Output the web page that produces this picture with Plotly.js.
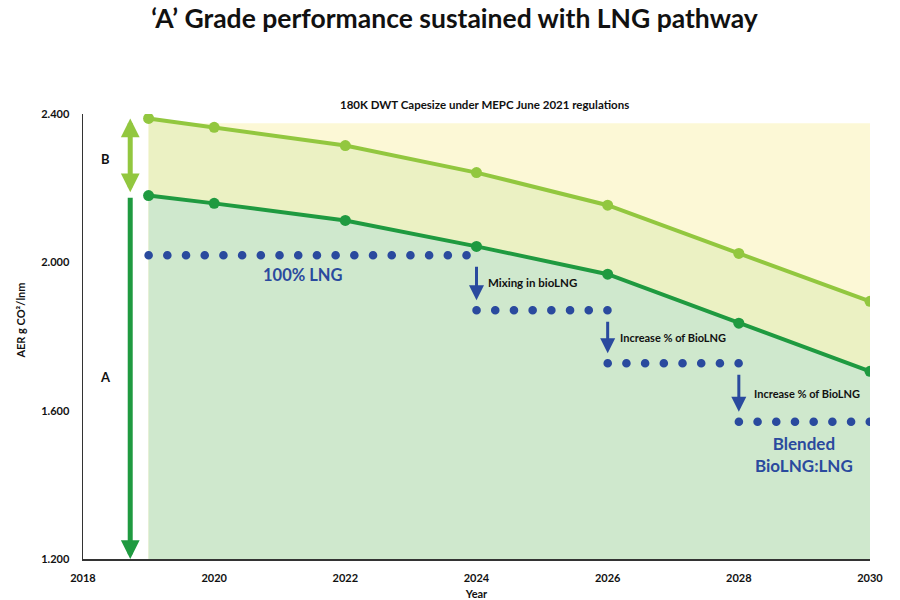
<!DOCTYPE html>
<html>
<head>
<meta charset="utf-8">
<script src="https://cdn.plot.ly/plotly-3.0.1.min.js"></script>
<style>
  html, body { margin: 0; padding: 0; background: #fff; }
  #chart { width: 900px; height: 600px; }
</style>
</head>
<body>
<div id="chart"></div>
<script>
// AER trajectory for a 180K DWT Capesize (grade boundaries by year)
const years = [2019, 2020, 2022, 2024, 2026, 2028, 2030];
const gradeBLimit = [2.388, 2.364, 2.315, 2.242, 2.154, 2.024, 1.895];
const gradeALimit = [2.180, 2.159, 2.113, 2.043, 1.968, 1.836, 1.706];

// Upper band (grade C zone) drawn behind the limits
const bandYears = [2019, 2030];
const bandTop = [2.375, 2.375];

// Fuel pathway steps: LNG then progressively blended bioLNG
const stepNames = ['100% LNG', 'Mixing in bioLNG', 'Increase % of BioLNG', 'Blended BioLNG:LNG'];
const stepStart = [2019, 2024, 2026, 2028];
const stepEnd = [2024, 2026, 2028, 2030];
const stepLevel = [2.019, 1.871, 1.728, 1.570];

const xTicks = [2018, 2020, 2022, 2024, 2026, 2028, 2030];
const yTicks = [1.2, 1.6, 2.0, 2.4];

const FONT = 'Lato, "Open Sans", sans-serif';
const BLUE = '#2a4a9e';
const LIGHT_GREEN = '#92c73f';
const DARK_GREEN = '#1f9a40';

const traces = [
  {
    x: bandYears, y: bandTop, mode: 'none', fill: 'tozeroy',
    fillcolor: '#fcf8d6', hoverinfo: 'skip', showlegend: false
  },
  {
    x: years, y: gradeBLimit, mode: 'lines+markers', fill: 'tozeroy',
    fillcolor: '#ebf1c3', line: { color: LIGHT_GREEN, width: 4 },
    marker: { color: LIGHT_GREEN, size: 11 }, showlegend: false, name: 'B limit'
  },
  {
    x: years, y: gradeALimit, mode: 'lines+markers', fill: 'tozeroy',
    fillcolor: '#cfe8cd', line: { color: DARK_GREEN, width: 4 },
    marker: { color: DARK_GREEN, size: 11 }, showlegend: false, name: 'A limit'
  }
];

// dotted step lines for each fuel stage
for (let i = 0; i < stepNames.length; i++) {
  traces.push({
    x: [stepStart[i], stepEnd[i]],
    y: [stepLevel[i], stepLevel[i]],
    mode: 'lines',
    line: { color: BLUE, width: 8.5, dash: '0.1px,18.6px' },
    hoverinfo: 'skip', showlegend: false, name: stepNames[i],
    meta: 'step'
  });
}

const annotations = [
  {
    text: '180K DWT Capesize under MEPC June 2021 regulations',
    xref: 'paper', yref: 'paper', x: 0.51, y: 1.04, showarrow: false,
    font: { family: FONT, size: 11.5, color: '#111', weight: 'bold' }
  },
  // grade markers on the left
  {
    x: 2018.72, y: 2.388, ax: 2018.72, ay: 2.185, axref: 'x', ayref: 'y',
    text: '', showarrow: true, arrowcolor: LIGHT_GREEN, arrowwidth: 5,
    arrowhead: 2, startarrowhead: 2, arrowsize: 0.75, startarrowsize: 0.75,
    arrowside: 'end+start'
  },
  {
    x: 2018.72, y: 1.2, ax: 2018.72, ay: 2.178, axref: 'x', ayref: 'y',
    text: '', showarrow: true, arrowcolor: DARK_GREEN, arrowwidth: 5,
    arrowhead: 2, arrowsize: 0.75
  },
  { text: 'B', x: 2018.35, y: 2.28, showarrow: false,
    font: { family: FONT, size: 13, color: '#111', weight: 'bold' } },
  { text: 'A', x: 2018.35, y: 1.69, showarrow: false,
    font: { family: FONT, size: 13, color: '#111', weight: 'bold' } },
  // pathway labels
  { text: stepNames[0], x: 2021.35, y: 1.966, showarrow: false,
    font: { family: FONT, size: 16.5, color: BLUE, weight: 'bold' } },
  { text: stepNames[1], x: 2024.15, y: 1.946, xanchor: 'left', showarrow: false,
    font: { family: FONT, size: 11.5, color: '#111', weight: 'bold' } },
  { text: stepNames[2], x: 2026.15, y: 1.798, xanchor: 'left', showarrow: false,
    font: { family: FONT, size: 11, color: '#111', weight: 'bold' } },
  { text: stepNames[2], x: 2028.2, y: 1.647, xanchor: 'left', showarrow: false,
    font: { family: FONT, size: 11, color: '#111', weight: 'bold' } },
  { text: 'Blended<br>BioLNG:LNG', x: 2029.0, y: 1.483, showarrow: false,
    font: { family: FONT, size: 17, color: BLUE, weight: 'bold' } },
  // vertical axis label
  { text: 'AER g CO\u00b2/lnm', xref: 'paper', yref: 'paper', x: -0.09, y: 0.535,
    textangle: -90, showarrow: false,
    font: { family: FONT, size: 11, color: '#111', weight: 'bold' } }
];

// down arrows between consecutive steps
for (let i = 1; i < stepNames.length; i++) {
  annotations.push({
    x: stepStart[i], y: stepLevel[i] + 0.027,
    ax: stepStart[i], ay: stepLevel[i - 1] - 0.027, axref: 'x', ayref: 'y',
    text: '', showarrow: true, arrowcolor: BLUE, arrowwidth: 3,
    arrowhead: 2, arrowsize: 1
  });
}

const layout = {
  width: 900, height: 600,
  margin: { l: 83, r: 30, t: 114, b: 41 },
  paper_bgcolor: '#ffffff', plot_bgcolor: '#ffffff',
  font: { family: FONT, color: '#111' },
  title: {
    text: '\u2018A\u2019 Grade performance sustained with LNG pathway',
    x: 0.505, xref: 'container', xanchor: 'center',
    y: 0.969, yref: 'container', yanchor: 'middle',
    font: { family: FONT, size: 26.5, color: '#111', weight: 'bold' }
  },
  xaxis: {
    range: [2018, 2030], tickvals: xTicks, ticktext: xTicks.map(String),
    showgrid: false, zeroline: false, showline: true, linecolor: '#333', linewidth: 1.5,
    ticks: '', ticklabelstandoff: 8,
    tickfont: { family: FONT, size: 11, color: '#111', weight: 'bold' },
    title: { text: 'Year', standoff: 14, font: { family: FONT, size: 11, color: '#111', weight: 'bold' } }
  },
  yaxis: {
    range: [1.2, 2.4], tickvals: yTicks, tickformat: '.3f',
    showgrid: false, zeroline: false, showline: true, linecolor: '#333', linewidth: 1.5,
    ticks: '', ticklabelstandoff: 10,
    tickfont: { family: FONT, size: 11, color: '#111', weight: 'bold' }
  },
  annotations: annotations,
  showlegend: false
};

Plotly.newPlot('chart', traces, layout, { displayModeBar: false, staticPlot: true }).then(gd => {
  // round caps turn the short dashes into dots
  const groups = gd.querySelectorAll('.scatterlayer .trace');
  gd._fullData.forEach((t, i) => {
    if (t.meta === 'step' && groups[i]) {
      groups[i].querySelectorAll('path.js-line').forEach(p => {
        p.style.strokeLinecap = 'round';
      });
    }
  });
});
</script>
</body>
</html>
